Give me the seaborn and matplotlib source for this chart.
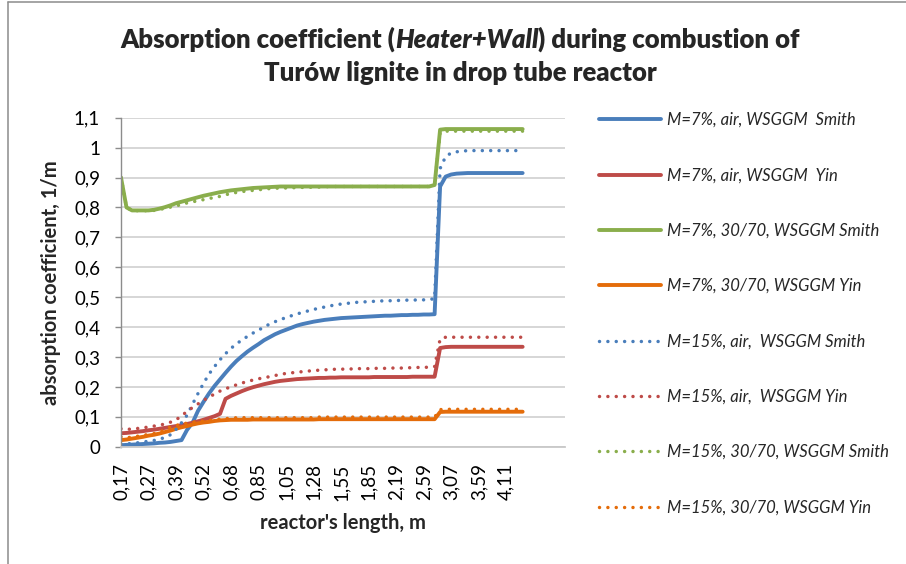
import numpy as np
import pandas as pd
import matplotlib
matplotlib.use("Agg")
import matplotlib.pyplot as plt
from matplotlib.lines import Line2D
import seaborn as sns

# reactor positions shown on the category axis (every 5th mesh cell is labelled)
tick_labels = ["0,17", "0,27", "0,39", "0,52", "0,68", "0,85", "1,05", "1,28",
               "1,55", "1,85", "2,19", "2,59", "3,07", "3,59", "4,11"]
label_every = 5

y_ticks = [0.0, 0.1, 0.2, 0.3, 0.4, 0.5, 0.6, 0.7, 0.8, 0.9, 1.0, 1.1]
y_tick_labels = ["0", "0,1", "0,2", "0,3", "0,4", "0,5", "0,6", "0,7", "0,8", "0,9", "1", "1,1"]

series_names = [
    "M=7%, air, WSGGM  Smith",
    "M=7%, air, WSGGM  Yin",
    "M=7%, 30/70, WSGGM Smith",
    "M=7%, 30/70, WSGGM Yin",
    "M=15%, air,  WSGGM Smith",
    "M=15%, air,  WSGGM Yin",
    "M=15%, 30/70, WSGGM Smith",
    "M=15%, 30/70, WSGGM Yin",
]

# absorption coefficient, 1/m, one value per mesh cell
m7_air_smith = [
    0.005, 0.006, 0.007, 0.008, 0.009, 0.010, 0.011, 0.013, 0.014, 0.016, 0.019, 0.022,
    0.056, 0.080, 0.120, 0.150, 0.178, 0.203, 0.225, 0.247, 0.268, 0.287, 0.303, 0.318,
    0.331, 0.343, 0.356, 0.366, 0.376, 0.384, 0.391, 0.398, 0.405, 0.410, 0.414, 0.418,
    0.421, 0.424, 0.426, 0.428, 0.430, 0.431, 0.432, 0.433, 0.434, 0.435, 0.436, 0.437,
    0.438, 0.438, 0.439, 0.440, 0.440, 0.441, 0.441, 0.442, 0.442, 0.443, 0.870, 0.903,
    0.910, 0.913, 0.914, 0.915, 0.915, 0.915, 0.915, 0.915, 0.915, 0.915, 0.915, 0.915,
    0.915, 0.915]
m7_air_yin = [
    0.045, 0.046, 0.048, 0.050, 0.052, 0.055, 0.057, 0.060, 0.063, 0.066, 0.069, 0.072,
    0.076, 0.080, 0.085, 0.090, 0.096, 0.102, 0.110, 0.160, 0.170, 0.178, 0.186, 0.193,
    0.199, 0.204, 0.209, 0.213, 0.217, 0.220, 0.222, 0.224, 0.226, 0.227, 0.228, 0.229,
    0.230, 0.230, 0.231, 0.231, 0.232, 0.232, 0.232, 0.232, 0.232, 0.232, 0.233, 0.233,
    0.233, 0.233, 0.233, 0.233, 0.233, 0.234, 0.234, 0.234, 0.234, 0.234, 0.330, 0.333,
    0.334, 0.334, 0.334, 0.334, 0.334, 0.334, 0.334, 0.334, 0.334, 0.334, 0.334, 0.334,
    0.334, 0.334]
m7_oxy_smith = [
    0.900, 0.800, 0.790, 0.790, 0.790, 0.790, 0.792, 0.796, 0.801, 0.807, 0.814, 0.819,
    0.824, 0.829, 0.834, 0.839, 0.843, 0.847, 0.851, 0.854, 0.857, 0.859, 0.861, 0.863,
    0.865, 0.866, 0.867, 0.868, 0.869, 0.870, 0.870, 0.870, 0.870, 0.870, 0.870, 0.870,
    0.870, 0.870, 0.870, 0.870, 0.870, 0.870, 0.870, 0.870, 0.870, 0.870, 0.870, 0.870,
    0.870, 0.870, 0.870, 0.870, 0.870, 0.870, 0.870, 0.870, 0.870, 0.875, 1.060, 1.062,
    1.062, 1.062, 1.062, 1.062, 1.062, 1.062, 1.062, 1.062, 1.062, 1.062, 1.062, 1.062,
    1.062, 1.062]
m7_oxy_yin = [
    0.022, 0.024, 0.027, 0.030, 0.033, 0.037, 0.040, 0.044, 0.049, 0.054, 0.060, 0.065,
    0.069, 0.074, 0.078, 0.081, 0.083, 0.086, 0.088, 0.089, 0.090, 0.090, 0.090, 0.090,
    0.091, 0.091, 0.091, 0.091, 0.091, 0.091, 0.091, 0.091, 0.091, 0.091, 0.091, 0.091,
    0.092, 0.092, 0.092, 0.092, 0.092, 0.092, 0.092, 0.092, 0.092, 0.092, 0.092, 0.092,
    0.092, 0.092, 0.092, 0.092, 0.092, 0.092, 0.092, 0.092, 0.092, 0.092, 0.116, 0.117,
    0.117, 0.117, 0.117, 0.117, 0.117, 0.117, 0.117, 0.117, 0.117, 0.117, 0.117, 0.117,
    0.117, 0.117]
m15_air_smith = [
    0.008, 0.009, 0.011, 0.013, 0.016, 0.018, 0.021, 0.025, 0.031, 0.040, 0.058, 0.080,
    0.105, 0.142, 0.178, 0.212, 0.243, 0.268, 0.291, 0.311, 0.329, 0.344, 0.357, 0.369,
    0.380, 0.390, 0.400, 0.410, 0.418, 0.425, 0.432, 0.438, 0.444, 0.449, 0.454, 0.459,
    0.463, 0.467, 0.471, 0.474, 0.477, 0.479, 0.481, 0.483, 0.484, 0.485, 0.486, 0.487,
    0.488, 0.488, 0.489, 0.489, 0.490, 0.490, 0.491, 0.491, 0.492, 0.495, 0.930, 0.970,
    0.982, 0.986, 0.988, 0.990, 0.990, 0.990, 0.990, 0.990, 0.990, 0.990, 0.990, 0.990,
    0.990, 0.990]
m15_air_yin = [
    0.060, 0.058, 0.059, 0.061, 0.063, 0.066, 0.069, 0.072, 0.076, 0.082, 0.090, 0.103,
    0.118, 0.131, 0.143, 0.155, 0.166, 0.176, 0.186, 0.194, 0.200, 0.207, 0.213, 0.218,
    0.223, 0.227, 0.231, 0.234, 0.238, 0.242, 0.245, 0.247, 0.249, 0.251, 0.253, 0.254,
    0.256, 0.257, 0.258, 0.259, 0.259, 0.260, 0.260, 0.261, 0.261, 0.261, 0.262, 0.262,
    0.262, 0.263, 0.263, 0.263, 0.264, 0.264, 0.265, 0.265, 0.266, 0.268, 0.360, 0.366,
    0.366, 0.366, 0.366, 0.366, 0.366, 0.366, 0.366, 0.366, 0.366, 0.366, 0.366, 0.366,
    0.366, 0.366]
m15_oxy_smith = [
    0.900, 0.800, 0.790, 0.789, 0.789, 0.789, 0.790, 0.793, 0.797, 0.801, 0.805, 0.810,
    0.815, 0.819, 0.822, 0.826, 0.830, 0.833, 0.837, 0.842, 0.847, 0.850, 0.853, 0.855,
    0.857, 0.859, 0.861, 0.863, 0.864, 0.865, 0.865, 0.866, 0.866, 0.867, 0.867, 0.868,
    0.868, 0.869, 0.870, 0.870, 0.870, 0.870, 0.870, 0.870, 0.870, 0.870, 0.870, 0.870,
    0.870, 0.870, 0.870, 0.870, 0.870, 0.870, 0.870, 0.870, 0.870, 0.875, 1.050, 1.055,
    1.055, 1.055, 1.055, 1.055, 1.055, 1.055, 1.055, 1.055, 1.055, 1.055, 1.055, 1.055,
    1.055, 1.055]
m15_oxy_yin = [
    0.033, 0.030, 0.032, 0.035, 0.038, 0.041, 0.044, 0.048, 0.058, 0.066, 0.071, 0.075,
    0.079, 0.082, 0.084, 0.086, 0.088, 0.090, 0.092, 0.094, 0.095, 0.097, 0.097, 0.097,
    0.097, 0.097, 0.097, 0.097, 0.097, 0.097, 0.097, 0.097, 0.097, 0.097, 0.097, 0.097,
    0.099, 0.099, 0.099, 0.099, 0.099, 0.099, 0.099, 0.099, 0.099, 0.099, 0.099, 0.099,
    0.099, 0.099, 0.099, 0.099, 0.099, 0.099, 0.099, 0.099, 0.099, 0.099, 0.124, 0.125,
    0.125, 0.125, 0.125, 0.125, 0.125, 0.125, 0.125, 0.125, 0.125, 0.125, 0.125, 0.125,
    0.125, 0.125]

series_values = [m7_air_smith, m7_air_yin, m7_oxy_smith, m7_oxy_yin,
                 m15_air_smith, m15_air_yin, m15_oxy_smith, m15_oxy_yin]

# styling
colors = ["#4A7EBB", "#BE4B48", "#8AAE4C", "#E46C0A"] * 2
dotted = [False] * 4 + [True] * 4
SOLID_LW = 2.8
DOT_LW = 2.5
DOT_STYLE = (0, (0.01, 2.4))

sns.set_theme(style="white")
plt.rcParams["font.family"] = ["Lato", "DejaVu Sans"]

W, H = 906, 564
fig = plt.figure(figsize=(W / 100, H / 100), dpi=100)
fig.patch.set_facecolor("white")
ax_left, ax_right, ax_top, ax_bottom = 121, 565, 117.7, 446.7
ax = fig.add_axes([ax_left / W, 1 - ax_bottom / H,
                   (ax_right - ax_left) / W, (ax_bottom - ax_top) / H])

frames = []
for name, vals in zip(series_names, series_values):
    frames.append(pd.DataFrame({"cell": np.arange(len(vals)), "k": vals, "series": name}))
data = pd.concat(frames, ignore_index=True)

handles = []
for name, col, dot in zip(series_names, colors, dotted):
    sub = data[data["series"] == name]
    if dot:
        sns.lineplot(data=sub, x="cell", y="k", ax=ax, color=col, lw=DOT_LW,
                     linestyle=DOT_STYLE, dash_capstyle="round", legend=False)
        handles.append(Line2D([], [], color=col, lw=DOT_LW, linestyle=DOT_STYLE,
                              dash_capstyle="round"))
    else:
        sns.lineplot(data=sub, x="cell", y="k", ax=ax, color=col, lw=SOLID_LW,
                     solid_capstyle="round", solid_joinstyle="round", legend=False)
        handles.append(Line2D([], [], color=col, lw=SOLID_LW, solid_capstyle="round"))

ax.set_xlim(0, 80.7)
ax.set_ylim(0, 1.1)
ax.set_xticks(np.arange(len(tick_labels)) * label_every)
ax.set_xticklabels(tick_labels, rotation=90, fontsize=13.5)
ax.set_yticks(y_ticks)
ax.set_yticklabels(y_tick_labels, fontsize=13.5)
ax.set_xlabel("")
ax.set_ylabel("")
ax.yaxis.grid(True, color="#D3D3D3", lw=1.3)
ax.xaxis.grid(False)
ax.set_axisbelow(True)
for s in ["top", "right"]:
    ax.spines[s].set_visible(False)
ax.spines["left"].set_color("#8C8C8C")
ax.spines["left"].set_linewidth(1.0)
ax.spines["bottom"].set_color("#C8C8C8")
ax.spines["bottom"].set_linewidth(1.3)
ax.tick_params(axis="y", length=4, width=1, color="#8C8C8C", pad=11, direction="out",
               left=True, labelcolor="black")
ax.tick_params(axis="x", length=0, pad=12, labelcolor="black")

fig.text(343 / W, 1 - 523 / H, "reactor's length, m", fontsize=14.5, fontweight="bold",
         ha="center", va="center")
fig.text(51 / W, 1 - 283 / H, "absorption coefficient, 1/m", fontsize=14.5,
         fontweight="bold", ha="center", va="center", rotation=90)

fig.legend(handles, series_names, loc="upper left",
           bbox_to_anchor=(599 / W, 1 - 112 / H), frameon=False,
           borderaxespad=0, borderpad=0, handlelength=3.7, handletextpad=0.4,
           labelspacing=2.36, prop={"size": 12, "style": "italic"})

# chart area border (left and top edges)
fig.add_artist(Line2D([7.5 / W, 7.5 / W], [0, 1 - 1.5 / H], transform=fig.transFigure,
                      color="#8C8C8C", lw=1.1))
fig.add_artist(Line2D([7.5 / W, 1], [1 - 1.5 / H, 1 - 1.5 / H], transform=fig.transFigure,
                      color="#8C8C8C", lw=1.1))


def centered_runs(baseline_px, center_px, runs, size):
    texts = [fig.text(0, 1 - baseline_px / H, s, fontsize=size, fontweight="heavy",
                      fontstyle=st, ha="left", va="baseline") for s, st in runs]
    fig.canvas.draw()
    r = fig.canvas.get_renderer()
    widths = [t.get_window_extent(r).width for t in texts]
    x = center_px - sum(widths) / 2
    for t, w in zip(texts, widths):
        t.set_x(x / W)
        x += w


centered_runs(48, 460, [("Absorption coefficient (", "normal"),
                        ("Heater+Wall", "italic"),
                        (") during combustion of", "normal")], 18.5)
centered_runs(81, 460, [("Turów lignite in drop tube reactor", "normal")], 18.5)

fig.savefig("out.png", dpi=100)
